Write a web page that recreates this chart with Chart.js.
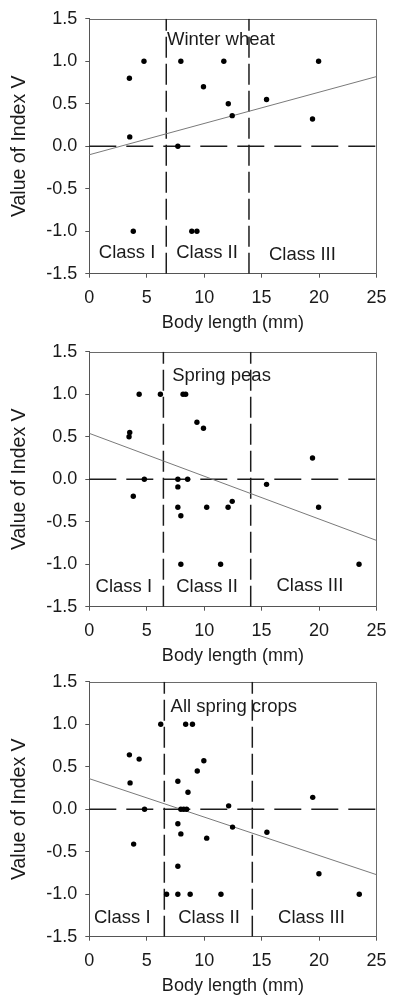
<!DOCTYPE html>
<html>
<head>
<meta charset="utf-8">
<script src="https://cdn.jsdelivr.net/npm/chart.js@4/dist/chart.umd.min.js"></script>
<style>
  html, body { margin:0; padding:0; background:#fff; overflow:hidden; }
  #wrap { position:relative; width:396px; height:995px; overflow:hidden; background:#fff; }
  canvas { position:absolute; left:0; }
</style>
</head>
<body>
<div id="wrap">
  <canvas id="c1" width="396" height="340" style="top:0px"></canvas>
  <canvas id="c2" width="396" height="340" style="top:333px"></canvas>
  <canvas id="c3" width="396" height="340" style="top:662.6px"></canvas>
</div>
<script>
// ---------- data ----------
const xTicks = [0, 5, 10, 15, 20, 25];
const yTicks = [-1.5, -1.0, -0.5, 0.0, 0.5, 1.0, 1.5];
const xTitle = 'Body length (mm)';
const yTitle = 'Value of Index V';
const classNames = ['Class I', 'Class II', 'Class III'];

// Winter wheat
const wheatX = [4.76, 3.49, 3.52, 3.83, 7.97, 7.71, 9.94, 11.71, 12.10, 12.44, 8.92, 9.37, 15.43, 19.43, 19.96];
const wheatY = [1.00, 0.80, 0.11, -1.00, 1.00, 0.00, 0.70, 1.00, 0.50, 0.36, -1.00, -1.00, 0.55, 0.32, 1.00];
const wheatFit = [-0.10, 0.82];          // regression value at x = 0 and x = 25
const wheatBounds = [6.70, 13.90];       // class boundaries (mm)
const wheatLabelPos = [[11.46, 1.25], [3.29, -1.26], [10.25, -1.26], [18.55, -1.28]];

// Spring peas
const peasX = [4.34, 6.19, 8.16, 8.39, 9.37, 9.94, 3.52, 3.46, 4.79, 3.83, 7.71, 7.71, 8.56, 7.71, 7.97, 10.22, 12.08, 12.44, 7.97, 11.43, 15.43, 19.43, 19.96, 23.48];
const peasY = [1.00, 1.00, 1.00, 1.00, 0.67, 0.60, 0.55, 0.50, 0.00, -0.20, 0.00, -0.09, 0.00, -0.33, -0.43, -0.33, -0.33, -0.26, -1.00, -1.00, -0.06, 0.25, -0.33, -1.00];
const peasFit = [0.54, -0.72];
const peasBounds = [6.45, 14.05];
const peasLabelPos = [[11.51, 1.22], [3.01, -1.27], [10.25, -1.27], [19.20, -1.26]];

// All spring crops
const allX = [6.22, 8.39, 8.98, 3.49, 4.34, 9.97, 9.40, 3.55, 7.71, 8.59, 4.81, 7.97, 8.22, 8.47, 12.13, 19.45, 7.71, 7.97, 10.22, 12.47, 15.46, 3.86, 7.71, 19.99, 6.73, 7.71, 8.78, 11.46, 23.50];
const allY = [1.00, 1.00, 1.00, 0.64, 0.59, 0.57, 0.45, 0.31, 0.33, 0.20, 0.00, 0.00, 0.00, 0.00, 0.04, 0.14, -0.17, -0.29, -0.34, -0.21, -0.27, -0.41, -0.67, -0.76, -1.00, -1.00, -1.00, -1.00, -1.00];
const allFit = [0.36, -0.77];
const allBounds = [6.53, 14.19];
const allLabelPos = [[12.58, 1.21], [2.87, -1.28], [10.42, -1.28], [19.34, -1.28]];

// ---------- drawing ----------
const FONT = '"Liberation Sans", Arial, sans-serif';
const AXIS_COLOR = '#555';
const TEXT_COLOR = '#1a1a1a';

const framePlugin = {
  id: 'frame',
  beforeDatasetsDraw(chart) {
    const a = chart.chartArea, ctx = chart.ctx;
    ctx.save();
    ctx.strokeStyle = '#6a6a6a';
    ctx.lineWidth = 1;
    ctx.beginPath();
    ctx.moveTo(Math.round(a.left) + 0.5, Math.round(a.top) + 0.5);
    ctx.lineTo(Math.round(a.right) + 0.5, Math.round(a.top) + 0.5);
    ctx.lineTo(Math.round(a.right) + 0.5, Math.round(a.bottom) + 0.5);
    ctx.stroke();
    ctx.restore();
  }
};

const labelPlugin = {
  id: 'labels',
  afterDatasetsDraw(chart, args, opts) {
    const ctx = chart.ctx, xs = chart.scales.x, ys = chart.scales.y;
    ctx.save();
    ctx.font = '18.5px ' + FONT;
    ctx.fillStyle = TEXT_COLOR;
    ctx.textAlign = 'center';
    ctx.textBaseline = 'middle';
    opts.texts.forEach((t, i) => {
      const p = opts.pos[i];
      ctx.fillText(t, xs.getPixelForValue(p[0]), ys.getPixelForValue(p[1]));
    });
    ctx.restore();
  }
};

function makeChart(id, xs, ys, fit, bounds, title, labelPos) {
  const pts = xs.map((x, i) => ({ x: x, y: ys[i] }));
  const yMin = yTicks[0], yMax = yTicks[yTicks.length - 1];
  const xMin = xTicks[0], xMax = xTicks[xTicks.length - 1];
  const vdash = { type: 'line', borderColor: '#1c1c1c', borderWidth: 1.5, borderDash: [21, 6], pointRadius: 0, fill: false, order: 3 };
  const hdash = { type: 'line', borderColor: '#1c1c1c', borderWidth: 1.5, borderDash: [27, 10], pointRadius: 0, fill: false, order: 3, clip: 4 };
  return new Chart(document.getElementById(id), {
    type: 'scatter',
    data: {
      datasets: [
        Object.assign({ data: [{ x: bounds[0], y: yMin }, { x: bounds[0], y: yMax }] }, vdash),
        Object.assign({ data: [{ x: bounds[1], y: yMin }, { x: bounds[1], y: yMax }] }, vdash),
        Object.assign({ data: [{ x: xMin, y: 0 }, { x: xMax, y: 0 }] }, hdash),
        { type: 'line', data: [{ x: xMin, y: fit[0] }, { x: xMax, y: fit[1] }], borderColor: '#7a7a7a', borderWidth: 1, pointRadius: 0, fill: false, order: 2 },
        { data: pts, pointRadius: 2.7, pointBackgroundColor: '#000', pointBorderWidth: 0, order: 1 }
      ]
    },
    options: {
      responsive: false,
      animation: false,
      devicePixelRatio: 1,
      layout: { padding: { top: 15.7, right: 10.7, bottom: 6.3, left: 0 } },
      plugins: {
        legend: { display: false },
        tooltip: { enabled: false },
        labels: { texts: [title].concat(classNames), pos: labelPos }
      },
      scales: {
        x: {
          type: 'linear', min: xMin, max: xMax,
          afterBuildTicks: s => { s.ticks = xTicks.map(v => ({ value: v })); },
          ticks: { font: { family: FONT, size: 18 }, color: TEXT_COLOR, padding: 9.5, maxRotation: 0 },
          grid: { drawOnChartArea: false, tickLength: 4, color: AXIS_COLOR },
          border: { color: AXIS_COLOR },
          title: { display: true, text: xTitle, font: { family: FONT, size: 18 }, color: TEXT_COLOR, padding: { top: 0, bottom: 0 } },
          afterFit: s => { s.height = 60; }
        },
        y: {
          type: 'linear', min: yMin, max: yMax,
          afterBuildTicks: s => { s.ticks = yTicks.map(v => ({ value: v })); },
          ticks: { font: { family: FONT, size: 18 }, color: TEXT_COLOR, padding: 8, callback: v => v.toFixed(1) },
          grid: { drawOnChartArea: false, tickLength: 4, color: AXIS_COLOR },
          border: { color: AXIS_COLOR },
          title: { display: true, text: yTitle, font: { family: FONT, size: 19.5 }, color: TEXT_COLOR, padding: { top: 8, bottom: 0 } },
          afterFit: s => { s.width = 89.3; }
        }
      }
    },
    plugins: [framePlugin, labelPlugin]
  });
}

makeChart('c1', wheatX, wheatY, wheatFit, wheatBounds, 'Winter wheat', wheatLabelPos);
makeChart('c2', peasX, peasY, peasFit, peasBounds, 'Spring peas', peasLabelPos);
makeChart('c3', allX, allY, allFit, allBounds, 'All spring crops', allLabelPos);
</script>
</body>
</html>
